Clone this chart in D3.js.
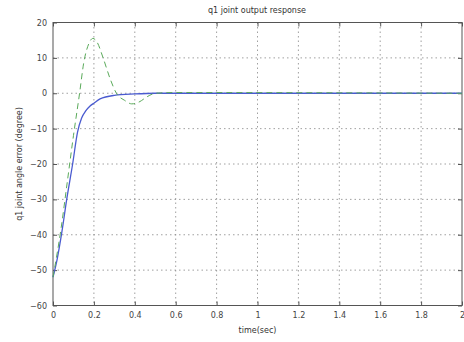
<!DOCTYPE html>
<html>
<head>
<meta charset="utf-8">
<script src="https://cdn.jsdelivr.net/npm/d3@7"></script>
<style>
  body { margin: 0; background: #fff; }
  svg text { font-family: "DejaVu Sans", sans-serif; fill: #333; }
</style>
</head>
<body>
<svg id="chart" width="464" height="342"></svg>
<script>
// x ticks and y ticks
const xTicks = [0, 0.2, 0.4, 0.6, 0.8, 1, 1.2, 1.4, 1.6, 1.8, 2];
const xTickLabels = ["0", "0.2", "0.4", "0.6", "0.8", "1", "1.2", "1.4", "1.6", "1.8", "2"];
const yTicks = [-60, -50, -40, -30, -20, -10, 0, 10, 20];

// solid blue response
const blueT = [0, 0.02, 0.044, 0.067, 0.096, 0.12, 0.14, 0.16, 0.18, 0.2, 0.23, 0.3, 0.4, 0.5, 0.7, 2];
const blueV = [-52, -47, -39, -30, -20, -11, -7, -5, -3.7, -2.8, -1.6, -0.6, -0.2, 0, 0, 0];

// dashed green response
const greenT = [0, 0.04, 0.07, 0.1, 0.13, 0.15, 0.175, 0.195, 0.215, 0.245, 0.28, 0.31, 0.35, 0.385, 0.42, 0.46, 0.5, 0.6, 2];
const greenV = [-52, -38, -25, -12, 0, 8.5, 14, 15.5, 14.5, 10, 4, 0, -2, -3, -2.5, -1, 0, 0.2, 0];

const svg = d3.select("#chart");
const margin = {left: 53, right: 2, top: 22.5, bottom: 36.5};
const W = 464, H = 342;

const x = d3.scaleLinear().domain([0, 2]).range([margin.left, W - margin.right]);
const y = d3.scaleLinear().domain([-60, 20]).range([H - margin.bottom, margin.top]);

// grid
const grid = svg.append("g");
grid.selectAll(".gx").data(xTicks.slice(1, -1)).enter().append("line")
	.attr("x1", d => x(d)).attr("x2", d => x(d))
	.attr("y1", y(20)).attr("y2", y(-60))
	.attr("stroke", "#888").attr("stroke-width", 0.8).attr("stroke-dasharray", "1.5,3");
grid.selectAll(".gy").data(yTicks.slice(1, -1)).enter().append("line")
	.attr("y1", d => y(d)).attr("y2", d => y(d))
	.attr("x1", x(0)).attr("x2", x(2))
	.attr("stroke", "#888").attr("stroke-width", 0.8).attr("stroke-dasharray", "1.5,3");

// box
svg.append("rect")
	.attr("x", x(0)).attr("y", y(20))
	.attr("width", x(2) - x(0)).attr("height", y(-60) - y(20))
	.attr("fill", "none").attr("stroke", "#555").attr("stroke-width", 1);

// axes (ticks inside)
const xAxis = d3.axisBottom(x).tickValues(xTicks).tickSize(-4).tickPadding(7)
	.tickFormat((d, i) => xTickLabels[i]);
const gx = svg.append("g").attr("transform", `translate(0,${y(-60)})`).call(xAxis);
const yAxis = d3.axisLeft(y).tickValues(yTicks).tickSize(-4).tickPadding(6);
const gy = svg.append("g").attr("transform", `translate(${x(0)},0)`).call(yAxis);
[gx, gy].forEach(g => {
	g.select(".domain").remove();
	g.selectAll(".tick line").attr("stroke", "#555");
	g.selectAll("text").attr("font-size", 8).style("fill", "#444");
});
// top and right ticks
svg.append("g").attr("transform", `translate(0,${y(20)})`)
	.call(d3.axisTop(x).tickValues(xTicks).tickSize(-4).tickFormat(""))
	.call(g => { g.select(".domain").remove(); g.selectAll("line").attr("stroke", "#555"); });
svg.append("g").attr("transform", `translate(${x(2)},0)`)
	.call(d3.axisRight(y).tickValues(yTicks).tickSize(-4).tickFormat(""))
	.call(g => { g.select(".domain").remove(); g.selectAll("line").attr("stroke", "#555"); });

// lines
const line = d3.line().curve(d3.curveMonotoneX).x(d => x(d[0])).y(d => y(d[1]));
const blueData = blueT.map((t, i) => [t, blueV[i]]);
const greenData = greenT.map((t, i) => [t, greenV[i]]);

svg.append("path").datum(blueData).attr("d", line)
	.attr("fill", "none").attr("stroke", "#4a5bd0").attr("stroke-width", 1.3);
svg.append("path").datum(greenData).attr("d", line)
	.attr("fill", "none").attr("stroke", "#5aaa5a").attr("stroke-width", 1)
	.attr("stroke-dasharray", "6,4");

// texts
svg.append("text").attr("x", 257).attr("y", 13).attr("text-anchor", "middle")
	.attr("font-size", 8).text("q1 joint  output response");
svg.append("text").attr("x", (x(0) + x(2)) / 2).attr("y", 333).attr("text-anchor", "middle")
	.attr("font-size", 8).text("time(sec)");
svg.append("text")
	.attr("transform", `translate(22,${(y(20) + y(-60)) / 2}) rotate(-90)`)
	.attr("text-anchor", "middle").attr("font-size", 8)
	.text("q1 joint angle error (degree)");
</script>
</body>
</html>
